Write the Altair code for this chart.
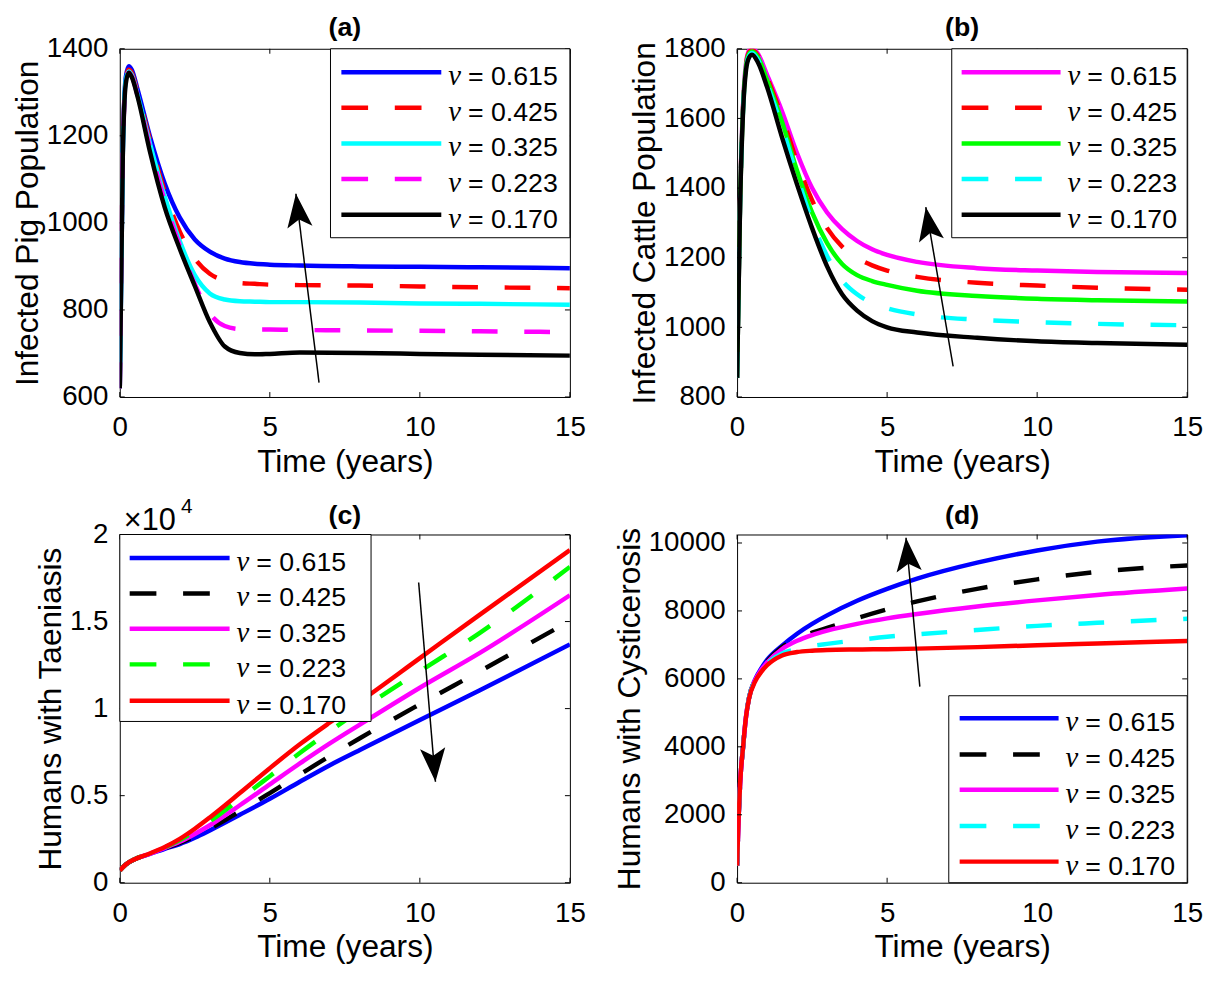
import altair as alt
import pandas as pd

FONT = "Liberation Sans"
W, H = 455, 352
LW = 4.5
DASH = [26, 27]

NU_TEXT = ["= 0.615", "= 0.425", "= 0.325", "= 0.223", "= 0.170"]

# ---------------- panel (a): infected pigs ----------------
T_A = [0, 0.1, 0.2, 0.3, 0.4, 0.6, 1.0, 1.5, 2.0, 2.5, 3.0, 3.5, 4.0, 4.5, 5, 6, 8, 10, 12, 15]
A_615 = [620, 1160, 1335, 1360, 1352, 1305, 1200, 1090, 1012, 962, 934, 918, 910, 906, 904, 902, 900, 899, 898, 896]
A_425 = [620, 1158, 1330, 1352, 1345, 1298, 1192, 1072, 980, 918, 883, 868, 862, 860, 858, 857, 856, 854, 852, 850]
A_325 = [620, 1156, 1328, 1348, 1340, 1292, 1184, 1060, 958, 880, 838, 824, 820, 819, 818, 818, 817, 815, 814, 812]
A_223 = [620, 1154, 1325, 1345, 1337, 1290, 1175, 1050, 948, 860, 792, 763, 756, 755, 755, 754, 753, 752, 751, 749]
A_170 = [620, 1150, 1320, 1345, 1335, 1288, 1165, 1035, 940, 855, 772, 716, 701, 698, 699, 702, 701, 699, 697, 695]

# ---------------- panel (b): infected cattle ----------------
T_B = [0, 0.1, 0.2, 0.3, 0.4, 0.5, 0.7, 1.0, 1.5, 2.0, 2.5, 3.0, 3.5, 4.0, 4.5, 5, 6, 8, 10, 12, 15]
B_615 = [855, 1360, 1640, 1760, 1795, 1802, 1785, 1725, 1620, 1500, 1400, 1330, 1282, 1248, 1224, 1208, 1188, 1170, 1163, 1159, 1156]
B_425 = [855, 1357, 1635, 1755, 1790, 1797, 1780, 1718, 1605, 1475, 1365, 1285, 1232, 1199, 1178, 1163, 1145, 1128, 1120, 1114, 1108]
B_325 = [855, 1355, 1630, 1750, 1785, 1792, 1775, 1710, 1590, 1450, 1330, 1242, 1182, 1150, 1133, 1122, 1105, 1090, 1082, 1078, 1074]
B_223 = [855, 1352, 1625, 1745, 1780, 1788, 1768, 1700, 1575, 1435, 1305, 1205, 1135, 1095, 1070, 1055, 1037, 1022, 1015, 1010, 1006]
B_170 = [855, 1350, 1620, 1740, 1775, 1783, 1760, 1690, 1545, 1410, 1285, 1175, 1095, 1048, 1018, 1000, 985, 970, 960, 955, 950]

# ---------------- panel (c): taeniasis (x 10^4) ----------------
T_C = [0, 0.2, 0.5, 1, 1.5, 2, 2.5, 3, 4, 5, 6, 7, 8, 10, 12, 15]
C_615 = [0.07, 0.105, 0.135, 0.165, 0.195, 0.222, 0.258, 0.300, 0.39, 0.482, 0.58, 0.675, 0.762, 0.935, 1.105, 1.369]
C_425 = [0.07, 0.105, 0.135, 0.166, 0.198, 0.228, 0.266, 0.31, 0.41, 0.515, 0.622, 0.728, 0.83, 1.025, 1.215, 1.504]
C_325 = [0.07, 0.105, 0.135, 0.166, 0.2, 0.235, 0.28, 0.33, 0.445, 0.565, 0.685, 0.80, 0.908, 1.12, 1.32, 1.651]
C_223 = [0.07, 0.105, 0.135, 0.167, 0.203, 0.245, 0.295, 0.352, 0.48, 0.612, 0.745, 0.87, 0.99, 1.215, 1.435, 1.814]
C_170 = [0.07, 0.105, 0.135, 0.168, 0.205, 0.252, 0.31, 0.375, 0.515, 0.658, 0.795, 0.92, 1.04, 1.29, 1.54, 1.91]

# ---------------- panel (d): cysticercosis ----------------
T_D = [0, 0.05, 0.1, 0.2, 0.3, 0.4, 0.6, 0.8, 1, 1.5, 2, 2.5, 3, 4, 5, 6, 8, 10, 12, 15]
D_615 = [500, 1900, 2900, 4000, 4900, 5450, 5980, 6300, 6560, 6980, 7330, 7620, 7870, 8300, 8650, 8950, 9420, 9780, 10040, 10230]
D_425 = [500, 1900, 2900, 4000, 4900, 5450, 5970, 6280, 6520, 6940, 7180, 7360, 7500, 7790, 8050, 8280, 8650, 8930, 9150, 9340]
D_325 = [500, 1900, 2900, 4000, 4900, 5450, 5960, 6260, 6480, 6880, 7120, 7290, 7420, 7620, 7780, 7910, 8130, 8310, 8470, 8660]
D_223 = [500, 1900, 2900, 4000, 4900, 5450, 5950, 6250, 6450, 6750, 6880, 6970, 7030, 7140, 7240, 7310, 7440, 7560, 7650, 7770]
D_170 = [500, 1900, 2900, 4000, 4900, 5430, 5920, 6200, 6400, 6690, 6790, 6830, 6850, 6865, 6875, 6890, 6935, 6990, 7040, 7118]

# arrows: (tail_t, tail_v, tip_t, tip_v, screen angle of head)
ARROW_A = (6.64, 633, 5.87, 1067, 353.2)
ARROW_B = (7.20, 888, 6.29, 1345, 350.4)
ARROW_C = (9.96, 1.724, 10.52, 0.58, 175.2)
ARROW_D = (6.09, 5772, 5.63, 10153, 354.7)

HEAD = "M0,0 L0.75,2 L0,1.55 L-0.75,2 Z"
X_TICKS = [0, 5, 10, 15]


def make_panel(title, toff, times, series, colors, dashed, ydom, yticks, ytitle, yfmt,
               box, rows, line_x, text_x, arrow, extra=None):
    xs = alt.Scale(domain=[0, 15], nice=False, zero=False)
    ys = alt.Scale(domain=ydom, nice=False, zero=False)
    xaxis = alt.Axis(values=X_TICKS, title="Time (years)", format="d", labelFlush=False)
    yaxis = alt.Axis(values=yticks, title=ytitle, format=yfmt, labelFlush=False)

    def X(f):
        return alt.X(f"{f}:Q", scale=xs, axis=xaxis)

    def Y(f):
        return alt.Y(f"{f}:Q", scale=ys, axis=yaxis)

    layers = []
    for vals, c, d in zip(series, colors, dashed):
        df = pd.DataFrame({"t": times, "v": vals})
        kw = dict(color=c, strokeWidth=LW, interpolate="monotone", clip=True)
        if d:
            kw["strokeDash"] = DASH
        layers.append(alt.Chart(df).mark_line(**kw).encode(x=X("t"), y=Y("v")))

    # inward ticks on all four sides
    xt = pd.DataFrame({"tx": X_TICKS})
    yt = pd.DataFrame({"ty": yticks})
    tk = dict(color="black", strokeWidth=1)
    layers.append(alt.Chart(xt).mark_rule(**tk).encode(x=X("tx"), y=alt.value(H), y2=alt.value(H - 5)))
    layers.append(alt.Chart(xt).mark_rule(**tk).encode(x=X("tx"), y=alt.value(0), y2=alt.value(5)))
    layers.append(alt.Chart(yt).mark_rule(**tk).encode(y=Y("ty"), x=alt.value(0), x2=alt.value(5)))
    layers.append(alt.Chart(yt).mark_rule(**tk).encode(y=Y("ty"), x=alt.value(W), x2=alt.value(W - 5)))

    # arrow
    at0, av0, at1, av1, ang = arrow
    adf = pd.DataFrame({"x": [at0], "y": [av0], "x2": [at1], "y2": [av1]})
    layers.append(alt.Chart(adf).mark_rule(color="black", strokeWidth=1.5).encode(
        x=X("x"), y=Y("y"), x2="x2:Q", y2="y2:Q"))
    hdf = pd.DataFrame({"hx": [at1], "hy": [av1]})
    layers.append(alt.Chart(hdf).mark_point(shape=HEAD, filled=True, color="black", size=1156,
                                            angle=ang, opacity=1, strokeWidth=0).encode(
        x=X("hx"), y=Y("hy")))

    # legend
    one = pd.DataFrame({"k": [0]})
    layers.append(alt.Chart(one).mark_rect(fill="white", stroke="black", strokeWidth=1).encode(
        x=alt.value(box[0]), x2=alt.value(box[1]), y=alt.value(box[2]), y2=alt.value(box[3])))
    for i, (c, d) in enumerate(zip(colors, dashed)):
        kw = dict(color=c, strokeWidth=LW)
        if d:
            kw["strokeDash"] = [27, 27]
        layers.append(alt.Chart(one).mark_rule(**kw).encode(
            x=alt.value(line_x[0]), x2=alt.value(line_x[1]), y=alt.value(rows[i])))
        layers.append(alt.Chart(one).mark_text(text="ν", font="Liberation Serif", fontStyle="italic",
                                               fontSize=29, align="left", baseline="alphabetic",
                                               color="black").encode(
            x=alt.value(text_x), y=alt.value(rows[i] + 13)))
        layers.append(alt.Chart(one).mark_text(text=NU_TEXT[i], font=FONT, fontSize=27,
                                               align="left", baseline="alphabetic",
                                               color="black").encode(
            x=alt.value(text_x + 20), y=alt.value(rows[i] + 13)))
    if extra:
        layers.extend(extra(one))

    return alt.layer(*layers).properties(
        width=W, height=H,
        title=alt.TitleParams(title, fontSize=27, fontWeight="bold", font=FONT, offset=toff, anchor="middle"))


ROWS_TOP = [23.7, 59.7, 95.7, 131.7, 167.7]

pa = make_panel("(a)", -7, T_A, [A_615, A_425, A_325, A_223, A_170],
                ["#0000ff", "#ff0000", "#00ffff", "#ff00ff", "#000000"],
                [False, True, False, True, False],
                [600, 1400], [600, 800, 1000, 1200, 1400], "Infected Pig Population", "d",
                (213, W, 0, 191), ROWS_TOP, (224, 325), 332, ARROW_A)

pb = make_panel("(b)", -7, T_B, [B_615, B_425, B_325, B_223, B_170],
                ["#ff00ff", "#ff0000", "#00ff00", "#00ffff", "#000000"],
                [False, True, False, True, False],
                [800, 1800], [800, 1000, 1200, 1400, 1600, 1800], "Infected Cattle Population", "d",
                (217, W, 0, 191), ROWS_TOP, (227, 327), 334, ARROW_B)


def exp_label(one):
    return [
        alt.Chart(one).mark_text(text="×10", font=FONT, fontSize=31, align="left",
                                 baseline="alphabetic", color="black").encode(
            x=alt.value(4), y=alt.value(-5)),
        alt.Chart(one).mark_text(text="4", font=FONT, fontSize=21, align="left",
                                 baseline="alphabetic", color="black").encode(
            x=alt.value(62), y=alt.value(-22)),
    ]


pc = make_panel("(c)", -34, T_C, [C_615, C_425, C_325, C_223, C_170],
                ["#0000ff", "#000000", "#ff00ff", "#00ff00", "#ff0000"],
                [False, True, False, True, False],
                [0, 2], [0, 0.5, 1, 1.5, 2], "Humans with Taeniasis", "~g",
                (0, 254, 0, 189), [23.7, 59.7, 95.3, 131.3, 168], (10, 111), 118, ARROW_C,
                extra=exp_label)

pd_ = make_panel("(d)", -3, T_D, [D_615, D_425, D_325, D_223, D_170],
                 ["#0000ff", "#000000", "#ff00ff", "#00ffff", "#ff0000"],
                 [False, True, False, True, False],
                 [0, 10250], [0, 2000, 4000, 6000, 8000, 10000], "Humans with Cysticerosis", "d",
                 (214, W, H - 189, H), [x + H - 189 for x in [22.7, 59.3, 95, 131.7, 167.7]],
                 (225, 325), 332, ARROW_D)

chart = alt.concat(pa, pb, pc, pd_, columns=2, spacing={"row": 17, "column": 26}).properties(
    padding={"left": 3, "top": 0, "right": 0, "bottom": 0}
).configure_view(stroke="black", strokeWidth=1).configure_axis(
    domain=False, ticks=False, grid=False,
    labelFont=FONT, labelFontSize=28, labelColor="black",
    titleFont=FONT, titleFontSize=32, titleFontWeight="normal", titleColor="black",
).configure_axisX(labelPadding=17, titlePadding=5).configure_axisY(
    labelPadding=12, titlePadding=2
).configure_title(color="black")

chart.save("out.html", embed_options={"renderer": "svg", "actions": False})
